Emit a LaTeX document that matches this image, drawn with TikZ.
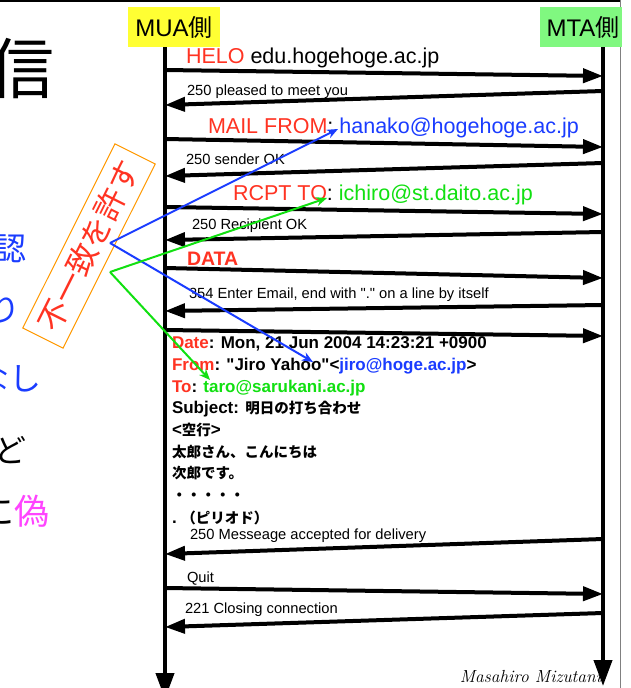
\documentclass[tikz,border=0pt]{standalone}
\usepackage{fontspec}
\setsansfont{Liberation Sans}[Ligatures=TeXOff]
\newfontfamily\jp{Noto Sans CJK JP}
\usetikzlibrary{arrows.meta}
\definecolor{kred}{HTML}{FF3322}
\definecolor{kblue}{HTML}{1A3CFF}
\definecolor{kgreen}{HTML}{11E011}
\definecolor{kyellow}{HTML}{FFFF33}
\definecolor{kmta}{HTML}{80F880}
\definecolor{korange}{HTML}{FF9900}
\definecolor{kmagenta}{HTML}{FF44FF}
\newcommand\jb[1]{{\jp\fontsize{14.5}{17}\selectfont #1}}
\begin{document}
\begin{tikzpicture}[x=1pt,y=-1pt,
  every node/.style={inner sep=0pt,outer sep=0pt,font=\sffamily},
  lifeline/.style={line width=4pt,-{Triangle[length=26pt,width=18pt]}},
  msg/.style={line width=4pt,-{Triangle[length=20pt,width=14pt]}},
  big/.style={anchor=base west,font=\sffamily\fontsize{21.5}{24}\selectfont},
  small/.style={anchor=base west,font=\sffamily\fontsize{14.7}{17}\selectfont},
  body/.style={anchor=base west,font=\sffamily\bfseries\fontsize{17}{20}\selectfont},
  side/.style={anchor=base east,font=\jp\fontsize{32}{36}\selectfont},
  hint/.style={line width=2pt,-{Stealth[length=11pt,width=9pt]}},
  sidebox/.style={minimum height=40pt,font=\sffamily\fontsize{24}{28}\selectfont},
]
\useasboundingbox (0,0) rectangle (630,688);
\clip (0,0) rectangle (630,688);
\fill[white] (0,0) rectangle (630,688);
% frame
\draw[line width=1.5pt] (0,1) -- (621,1);
\draw[line width=1pt,gray] (620.5,0) -- (620.5,688);

% left partial texts
\node[anchor=base west,font=\jp\fontsize{66}{70}\selectfont] (t0) at (-12,93) {信};
\node[side,text=kblue] (t1) at (27,260) {確認};
\node[side,text=kblue] (t2) at (21,321) {わり};
\node[side,text=kblue] (t3) at (42,390) {なし};
\node[side] (t4) at (27,462) {など};
\node[side,font=\jp\fontsize{35}{38}\selectfont] (t5) at (50,524) {に\textcolor{kmagenta}{偽}};

% headers
\node[sidebox,fill=kyellow,minimum width=92pt] (mua) at (174,27) {MUA{\jp 側}};
\node[sidebox,fill=kmta,minimum width=82pt,anchor=west] (mta) at (540,27) {\,MTA{\jp 側}};

% lifelines
\coordinate (muaTop) at (165,47);
\coordinate (muaBot) at (165,699);
\coordinate (mtaTop) at (603,47);
\coordinate (mtaBot) at (603,686);
\draw[lifeline] (muaTop) -- (muaBot);
\draw[lifeline] (mtaTop) -- (mtaBot);

% message end points
\coordinate (a1) at (165,70);  \coordinate (b1) at (603,76);
\coordinate (b2) at (603,91);  \coordinate (a2) at (165,105);
\coordinate (a3) at (165,139); \coordinate (b3) at (603,147);
\coordinate (b4) at (603,163); \coordinate (a4) at (165,176);
\coordinate (a5) at (165,207); \coordinate (b5) at (603,214);
\coordinate (b6) at (603,232); \coordinate (a6) at (165,240);
\coordinate (a7) at (165,268); \coordinate (b7) at (603,278);
\coordinate (b8) at (603,305); \coordinate (a8) at (165,311);
\coordinate (a9) at (165,330); \coordinate (b9) at (603,336);
\coordinate (b10) at (603,539); \coordinate (a10) at (165,554);
\coordinate (a11) at (165,588); \coordinate (b11) at (603,594);
\coordinate (b12) at (603,613); \coordinate (a12) at (165,627);

\draw[msg] (a1) -- (b1);
\draw[msg] (b2) -- (a2);
\draw[msg] (a3) -- (b3);
\draw[msg] (b4) -- (a4);
\draw[msg] (a5) -- (b5);
\draw[msg] (b6) -- (a6);
\draw[msg] (a7) -- (b7);
\draw[msg] (b8) -- (a8);
\draw[msg] (a9) -- (b9);
\draw[msg] (b10) -- (a10);
\draw[msg] (a11) -- (b11);
\draw[msg] (b12) -- (a12);

% labels
\node[big] (l1) at (186,63) {\textcolor{kred}{HELO} edu.hogehoge.ac.jp};
\node[small] (l2) at (187,95) {250 pleased to meet you};
\node[big] (l3) at (208,133) {\textcolor{kred}{MAIL FROM}: \textcolor{kblue}{hanako@hogehoge.ac.jp}};
\node[small] (l4) at (186,164) {250 sender OK};
\node[big] (l5) at (233,200) {\textcolor{kred}{RCPT TO}: \textcolor{kgreen}{ichiro@st.daito.ac.jp}};
\node[small] (l6) at (192,229) {250 Recipient OK};
\node[big,font=\sffamily\bfseries\fontsize{19.5}{22}\selectfont,text=kred] (l7) at (187,265) {DATA};
\node[small] (l8) at (189,298) {354 Enter Email, end with "." on a line by itself};

\node[body] (d1) at (172,348) {\textcolor{kred}{Date}: Mon, 21 Jun 2004 14:23:21 +0900};
\node[body] (d2) at (172,370) {\textcolor{kred}{From}: "Jiro Yahoo"<\textcolor{kblue}{jiro@hoge.ac.jp}>};
\node[body] (d3) at (172,392) {\textcolor{kred}{To}: \textcolor{kgreen}{taro@sarukani.ac.jp}};
\node[body] (d4) at (172,413) {Subject: \jb{明日の打ち合わせ}};
\node[body] (d5) at (172,435) {<\jb{空行}>};
\node[body] (d6) at (172,457) {\jb{太郎さん、こんにちは}};
\node[body] (d7) at (172,478) {\jb{次郎です。}};
\node[body] (d8) at (172,500) {\jb{・・・・・}};
\node[body] (d9) at (172,523) {.\ \jb{（ピリオド）}};

\node[small] (l10) at (190,539) {250 Messeage accepted for delivery};
\node[small] (l11) at (187,582) {Quit};
\node[small] (l12) at (185,613) {221 Closing connection};

% rotated note
\node[draw=korange,line width=1pt,rotate=63.4,minimum width=206pt,minimum height=45pt,
      text=kred,font=\jp\fontsize{31}{33}\selectfont] (note) at (89,246) {不一致を許す};

% hint arrows
\coordinate (fb) at (110,243);
\coordinate (bt1) at (338,129);
\coordinate (bt2) at (313,362);
\coordinate (fg) at (110,272);
\coordinate (gt1) at (327,198);
\coordinate (gt2) at (210,380);
\draw[hint,kblue] (fb) -- (bt1);
\draw[hint,kblue] (fb) -- (bt2);
\draw[hint,kgreen] (fg) -- (gt1);
\draw[hint,kgreen] (fg) -- (gt2);

% signature
\node[anchor=base east,font=\rmfamily\itshape\fontsize{17.5}{20}\selectfont] (sig) at (601,682) {Masahiro Mizutani};
\end{tikzpicture}
\end{document}
